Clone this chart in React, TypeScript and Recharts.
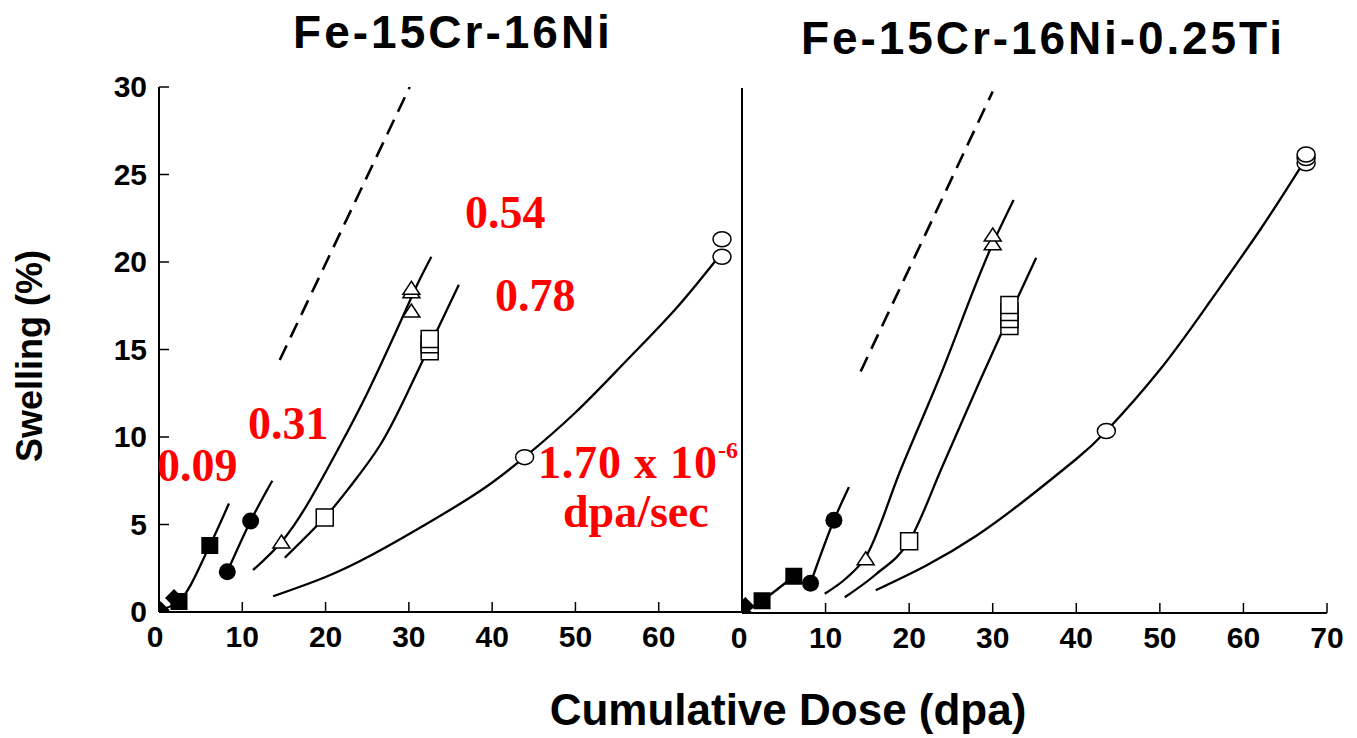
import { ComposedChart, Line, Scatter, XAxis, YAxis } from "recharts";

type Pt = { x: number; y: number };

const xTicks = [0, 10, 20, 30, 40, 50, 60, 70];
const yTicks = [0, 5, 10, 15, 20, 25, 30];

// Fe-15Cr-16Ni  (dose in dpa, swelling in %)
const leftDiamonds: Pt[] = [{ x: 0.2, y: 0.1 }, { x: 1.8, y: 0.8 }];
const leftSquaresFilled: Pt[] = [{ x: 2.4, y: 0.6 }, { x: 6.1, y: 3.8 }];
const leftCirclesFilled: Pt[] = [{ x: 8.2, y: 2.3 }, { x: 11.0, y: 5.2 }];
const leftTriangles: Pt[] = [
  { x: 14.7, y: 4.0 },
  { x: 30.3, y: 17.2 },
  { x: 30.3, y: 18.3 },
  { x: 30.3, y: 18.5 },
];
const leftSquaresOpen: Pt[] = [
  { x: 19.9, y: 5.4 },
  { x: 32.5, y: 14.9 },
  { x: 32.5, y: 15.3 },
  { x: 32.5, y: 15.6 },
];
const leftCirclesOpen: Pt[] = [
  { x: 43.9, y: 8.85 },
  { x: 67.6, y: 20.3 },
  { x: 67.6, y: 21.3 },
];

const leftFit009: Pt[] = [
  { x: 0.6, y: 0.2 },
  { x: 2.4, y: 0.6 },
  { x: 6.1, y: 3.8 },
  { x: 8.4, y: 6.2 },
];
const leftFit031: Pt[] = [
  { x: 8.2, y: 2.3 },
  { x: 11.0, y: 5.2 },
  { x: 13.6, y: 7.5 },
];
const leftFit054: Pt[] = [
  { x: 11.3, y: 2.4 },
  { x: 14.7, y: 4.0 },
  { x: 18, y: 6.3 },
  { x: 21.5, y: 9.3 },
  { x: 25, y: 12.5 },
  { x: 29.1, y: 16.7 },
  { x: 31.1, y: 18.8 },
  { x: 32.7, y: 20.3 },
];
const leftFit078: Pt[] = [
  { x: 15.1, y: 3.1 },
  { x: 19.9, y: 5.4 },
  { x: 23, y: 7.2 },
  { x: 26.5, y: 9.5 },
  { x: 29.5, y: 12.2 },
  { x: 32.5, y: 15.2 },
  { x: 36, y: 18.7 },
];
const leftFit170: Pt[] = [
  { x: 13.7, y: 0.9 },
  { x: 20, y: 2.0 },
  { x: 25.7, y: 3.3 },
  { x: 32, y: 5 },
  { x: 38.5, y: 6.9 },
  { x: 43.9, y: 8.85 },
  { x: 50, y: 11.4 },
  { x: 56, y: 14.3 },
  { x: 62, y: 17.3 },
  { x: 67.2, y: 20.3 },
];
const leftDashed: Pt[] = [{ x: 14.5, y: 14.4 }, { x: 30.1, y: 30 }];

// Fe-15Cr-16Ni-0.25Ti
const rightDiamonds: Pt[] = [{ x: 0.2, y: 0 }, { x: 0.4, y: 0.4 }];
const rightSquaresFilled: Pt[] = [{ x: 2.4, y: 0.7 }, { x: 6.2, y: 2.1 }];
const rightCirclesFilled: Pt[] = [{ x: 8.2, y: 1.7 }, { x: 11.0, y: 5.3 }];
const rightTriangles: Pt[] = [
  { x: 14.8, y: 3.1 },
  { x: 30.0, y: 21.1 },
  { x: 30.0, y: 21.6 },
];
const rightSquaresOpen: Pt[] = [
  { x: 20.0, y: 4.1 },
  { x: 32.0, y: 16.4 },
  { x: 32.0, y: 16.8 },
  { x: 32.0, y: 17.2 },
  { x: 32.0, y: 17.6 },
];
const rightCirclesOpen: Pt[] = [
  { x: 43.6, y: 10.4 },
  { x: 67.5, y: 25.7 },
  { x: 67.5, y: 26.0 },
  { x: 67.5, y: 26.2 },
];

const rightFit009: Pt[] = [
  { x: 0.2, y: 0 },
  { x: 2.4, y: 0.7 },
  { x: 6.2, y: 2.1 },
];
const rightFit031: Pt[] = [
  { x: 8.2, y: 1.7 },
  { x: 11.0, y: 5.3 },
  { x: 12.8, y: 7.2 },
];
const rightFit054: Pt[] = [
  { x: 9.9, y: 1.1 },
  { x: 12.5, y: 2.0 },
  { x: 14.8, y: 3.2 },
  { x: 19, y: 8.2 },
  { x: 23.5, y: 13.3 },
  { x: 30, y: 21.1 },
  { x: 32.5, y: 23.6 },
];
const rightFit078: Pt[] = [
  { x: 12.3, y: 0.9 },
  { x: 16, y: 2.2 },
  { x: 20, y: 4.1 },
  { x: 24, y: 8.4 },
  { x: 28.5, y: 13.3 },
  { x: 32, y: 17 },
  { x: 35.2, y: 20.3 },
];
const rightFit170: Pt[] = [
  { x: 16, y: 1.3 },
  { x: 22, y: 2.7 },
  { x: 28, y: 4.4 },
  { x: 34, y: 6.5 },
  { x: 40, y: 8.8 },
  { x: 43.6, y: 10.4 },
  { x: 50, y: 13.9 },
  { x: 56, y: 17.8 },
  { x: 62, y: 21.9 },
  { x: 67, y: 25.6 },
];
const rightDashed: Pt[] = [{ x: 14.2, y: 13.8 }, { x: 30.0, y: 29.8 }];

const sans = "'Liberation Sans', Arial, Helvetica, sans-serif";
const serif = "'Liberation Serif', 'Times New Roman', serif";

const diamond = (p: any) => (
  <path
    d={`M${p.cx},${p.cy - 9}L${p.cx + 9},${p.cy}L${p.cx},${p.cy + 9}L${p.cx - 9},${p.cy}Z`}
    fill="#000"
  />
);
const squareFilled = (p: any) => (
  <rect x={p.cx - 8.5} y={p.cy - 8.5} width={17} height={17} fill="#000" />
);
const circleFilled = (p: any) => <circle cx={p.cx} cy={p.cy} r={8.5} fill="#000" />;
const triangleOpen = (p: any) => (
  <path
    d={`M${p.cx},${p.cy - 7}L${p.cx + 8.5},${p.cy + 6}L${p.cx - 8.5},${p.cy + 6}Z`}
    fill="#fff"
    stroke="#000"
    strokeWidth={1.5}
  />
);
const squareOpen = (p: any) => (
  <rect
    x={p.cx - 8.5}
    y={p.cy - 8.5}
    width={17}
    height={17}
    fill="#fff"
    stroke="#000"
    strokeWidth={1.5}
  />
);
const circleOpen = (p: any) => (
  <ellipse cx={p.cx} cy={p.cy} rx={9} ry={7.5} fill="#fff" stroke="#000" strokeWidth={1.5} />
);

type Curve = { data: Pt[]; kind: "monotone" | "natural" };

type PanelProps = {
  left: number;
  width: number;
  margin: { top: number; right: number; bottom: number; left: number };
  yAxisWidth: number;
  showYLabels: boolean;
  zeroShift: number;
  hideLast: boolean;
  curves: Curve[];
  dashed: Pt[];
  markers: { data: Pt[]; shape: any }[];
};

function Panel(props: PanelProps) {
  const axisLine = { stroke: "#000", strokeWidth: 2 };
  const tickLine = { stroke: "#000", strokeWidth: 1.5 };
  const xTick = (t: any) => {
    const v = t.payload.value;
    if (props.hideLast && v === 70) return <g />;
    return (
      <text
        x={t.x + (v === 0 ? props.zeroShift : 0)}
        y={t.y + 21}
        textAnchor="middle"
        fontFamily={sans}
        fontWeight="bold"
        fontSize={30}
        fill="#000"
      >
        {v}
      </text>
    );
  };
  const yTick = (t: any) => (
    <text
      x={t.x}
      y={t.y + 10}
      textAnchor="end"
      fontFamily={sans}
      fontWeight="bold"
      fontSize={30}
      fill="#000"
    >
      {t.payload.value}
    </text>
  );
  return (
    <div style={{ position: "absolute", left: props.left, top: 0 }}>
      <ComposedChart width={props.width} height={738} margin={props.margin}>
        <XAxis
          xAxisId="b"
          type="number"
          dataKey="x"
          domain={[0, 70]}
          ticks={xTicks}
          interval={0}
          height={40}
          tickSize={-10}
          tickMargin={24}
          axisLine={axisLine}
          tickLine={tickLine}
          tick={xTick}
          allowDataOverflow
        />
        <XAxis
          xAxisId="t"
          type="number"
          orientation="top"
          domain={[0, 70]}
          ticks={xTicks}
          interval={0}
          height={0}
          tickSize={-10}
          axisLine={axisLine}
          tickLine={tickLine}
          tick={false}
        />
        <YAxis
          yAxisId="l"
          type="number"
          dataKey="y"
          domain={[0, 30]}
          ticks={yTicks}
          interval={0}
          width={props.yAxisWidth}
          tickSize={-10}
          tickMargin={22}
          axisLine={axisLine}
          tickLine={tickLine}
          tick={props.showYLabels ? yTick : false}
          allowDataOverflow
        />
        <YAxis
          yAxisId="r"
          type="number"
          orientation="right"
          domain={[0, 30]}
          ticks={yTicks}
          interval={0}
          width={0}
          tickSize={-10}
          axisLine={axisLine}
          tickLine={tickLine}
          tick={false}
        />
        {props.curves.map((c, i) => (
          <Line
            key={`c${i}`}
            xAxisId="b"
            yAxisId="l"
            data={c.data}
            dataKey="y"
            type={c.kind}
            stroke="#000"
            strokeWidth={2.3}
            dot={false}
            activeDot={false}
            isAnimationActive={false}
          />
        ))}
        <Line
          xAxisId="b"
          yAxisId="l"
          data={props.dashed}
          dataKey="y"
          type="linear"
          stroke="#000"
          strokeWidth={2.6}
          strokeDasharray="16 9"
          dot={false}
          activeDot={false}
          isAnimationActive={false}
        />
        {props.markers.map((m, i) => (
          <Scatter
            key={`m${i}`}
            xAxisId="b"
            yAxisId="l"
            data={m.data}
            shape={m.shape}
            isAnimationActive={false}
          />
        ))}
      </ComposedChart>
    </div>
  );
}

export default function App() {
  return (
    <div
      style={{
        position: "absolute",
        left: 0,
        top: 0,
        width: 1357,
        height: 738,
        background: "#fff",
        overflow: "hidden",
      }}
    >
      <Panel
        left={0}
        width={760}
        margin={{ top: 87, right: 18, bottom: 86, left: 99 }}
        yAxisWidth={60}
        showYLabels
        zeroShift={-4}
        hideLast
        curves={[
          { data: leftFit009, kind: "monotone" },
          { data: leftFit031, kind: "monotone" },
          { data: leftFit054, kind: "natural" },
          { data: leftFit078, kind: "natural" },
          { data: leftFit170, kind: "natural" },
        ]}
        dashed={leftDashed}
        markers={[
          { data: leftDiamonds, shape: diamond },
          { data: leftSquaresFilled, shape: squareFilled },
          { data: leftCirclesFilled, shape: circleFilled },
          { data: leftTriangles, shape: triangleOpen },
          { data: leftSquaresOpen, shape: squareOpen },
          { data: leftCirclesOpen, shape: circleOpen },
        ]}
      />
      <Panel
        left={700}
        width={657}
        margin={{ top: 88, right: 30, bottom: 85, left: 32 }}
        yAxisWidth={10}
        showYLabels={false}
        zeroShift={-3}
        hideLast={false}
        curves={[
          { data: rightFit009, kind: "monotone" },
          { data: rightFit031, kind: "monotone" },
          { data: rightFit054, kind: "monotone" },
          { data: rightFit078, kind: "monotone" },
          { data: rightFit170, kind: "natural" },
        ]}
        dashed={rightDashed}
        markers={[
          { data: rightDiamonds, shape: diamond },
          { data: rightSquaresFilled, shape: squareFilled },
          { data: rightCirclesFilled, shape: circleFilled },
          { data: rightTriangles, shape: triangleOpen },
          { data: rightSquaresOpen, shape: squareOpen },
          { data: rightCirclesOpen, shape: circleOpen },
        ]}
      />
      <svg
        width={1357}
        height={738}
        style={{ position: "absolute", left: 0, top: 0, pointerEvents: "none" }}
      >
        <g fontFamily={sans} fontWeight="bold" fill="#000">
          <text x={453} y={48} fontSize={46} letterSpacing={3} textAnchor="middle">
            Fe-15Cr-16Ni
          </text>
          <text x={1043} y={54} fontSize={46} letterSpacing={2.9} textAnchor="middle">
            Fe-15Cr-16Ni-0.25Ti
          </text>
          <text x={788} y={725} fontSize={44} textAnchor="middle">
            Cumulative Dose (dpa)
          </text>
          <text
            x={42}
            y={356}
            fontSize={36}
            textAnchor="middle"
            transform="rotate(-90 42 356)"
          >
            Swelling (%)
          </text>
        </g>
        <g fontFamily={serif} fontWeight="bold" fill="#ff0000" fontSize={46}>
          <text x={157} y={481}>0.09</text>
          <text x={248} y={439}>0.31</text>
          <text x={465} y={228}>0.54</text>
          <text x={495} y={311}>0.78</text>
          <text x={538} y={478} letterSpacing={0.8}>1.70 x 10</text>
          <text x={718} y={458} fontSize={24}>-6</text>
          <text x={563} y={527}>dpa/sec</text>
        </g>
      </svg>
    </div>
  );
}
